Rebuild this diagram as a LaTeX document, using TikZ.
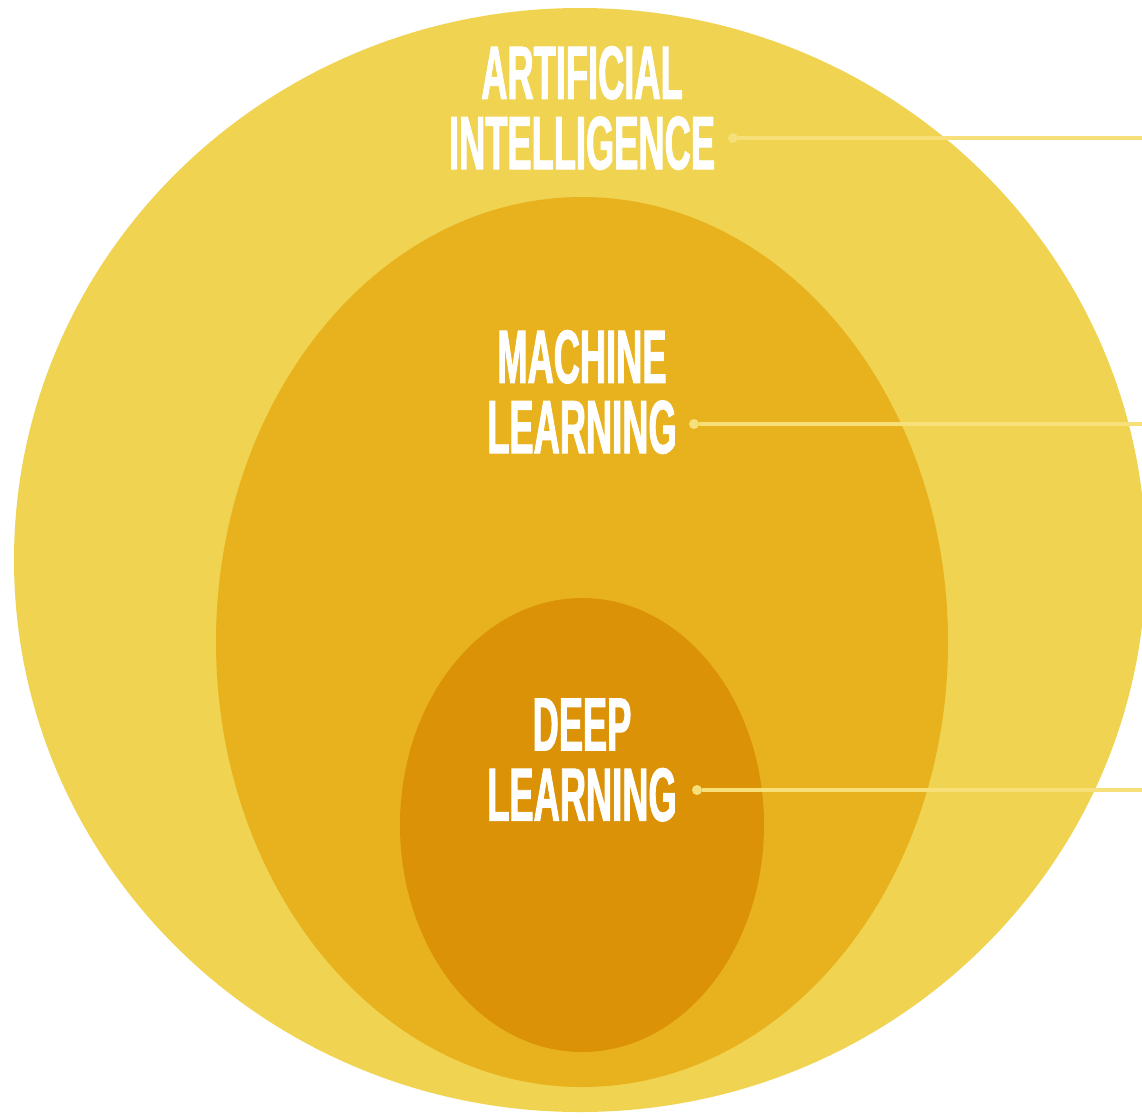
\documentclass[tikz,border=0pt]{standalone}
\usepackage{fontspec}
\newfontfamily\labelfont[FakeStretch=0.48, FakeBold=1.2]{Liberation Sans}
\usetikzlibrary{positioning}
\definecolor{aiyellow}{HTML}{F0D350}
\definecolor{mlyellow}{HTML}{E8B21E}
\definecolor{dlorange}{HTML}{DB9206}
\definecolor{leader}{HTML}{F7E07A}
\tikzset{
  field/.style={draw=none},
  tag/.style={text=white, inner sep=0pt, align=center,
    font=\labelfont\bfseries\fontsize{43}{40}\selectfont},
  dot/.style={circle, fill=leader, inner sep=0pt, minimum size=0.2cm},
  leaderline/.style={draw=leader, line width=2pt}
}

\begin{document}
\begin{tikzpicture}[x=0.02cm, y=-0.02cm]
  \clip (0,0) rectangle (1142,1117);
  \fill[white] (0,0) rectangle (1142,1117);
  % nested fields
  \fill[field, aiyellow] (580,560) ellipse [x radius=566, y radius=552];
  \fill[field, mlyellow] (582,642) ellipse [x radius=366, y radius=445];
  \fill[field, dlorange] (582,825) ellipse [x radius=182, y radius=227];
  % labels
  \node[tag] (ai) at (582,108) {ARTIFICIAL\\INTELLIGENCE};
  \node[tag] (ml) at (582,392) {MACHINE\\LEARNING};
  \node[tag] (dl) at (582,760) {DEEP\\LEARNING};
  % leader lines
  \node[dot] (aidot) at (733,138) {};
  \node[dot] (mldot) at (694,424) {};
  \node[dot] (dldot) at (697,790) {};
  \coordinate (aiend) at (1142,138);
  \coordinate (mlend) at (1142,424);
  \coordinate (dlend) at (1142,790);
  \draw[leaderline] (aidot) -- (aiend);
  \draw[leaderline] (mldot) -- (mlend);
  \draw[leaderline] (dldot) -- (dlend);
\end{tikzpicture}
\end{document}
